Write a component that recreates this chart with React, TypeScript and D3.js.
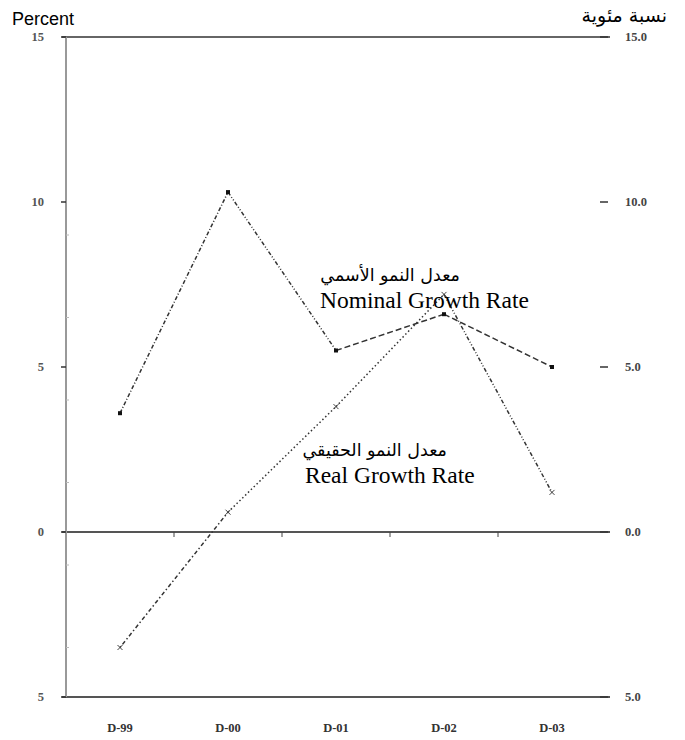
import React from "react";
import * as d3 from "d3";

// chart data
const categories = ["D-99", "D-00", "D-01", "D-02", "D-03"];
const nominalGrowth = [3.6, 10.3, 5.5, 6.6, 5.0];
const realGrowth = [-3.5, 0.6, 3.8, 7.2, 1.2];
const leftTicks = [15, 10, 5, 0, -5];
const leftTickLabels = ["15", "10", "5", "0", "5"];
const rightTickLabels = ["15.0", "10.0", "5.0", "0.0", "5.0"];

// dash pattern for each segment (between consecutive categories)
const nominalDash = ["4,2,1,2", "4,2,1,2,1,2", "6,3", "6,3"];
const realDash = ["1.5,2.5,4,2.5", "1.5,2.5", "1.5,2.5", "4,2,1,2,1,2"];

export default function App() {
  const svgRef = React.useRef<SVGSVGElement>(null);
  const width = 685;
  const height = 740;
  const left = 66, right = 606, top = 37, bottom = 697;

  React.useEffect(() => {
    const svg = d3.select(svgRef.current);
    svg.selectAll("*").remove();

    const x = d3.scaleBand<string>().domain(categories).range([left, right]).padding(0);
    const y = d3.scaleLinear().domain([-5, 15]).range([bottom, top]);
    const cx = (c: string) => (x(c) as number) + x.bandwidth() / 2;

    // frame lines
    svg.append("line").attr("x1", 62).attr("x2", 610).attr("y1", y(15)).attr("y2", y(15))
      .attr("stroke", "#666").attr("stroke-width", 2);
    svg.append("line").attr("x1", 62).attr("x2", 610).attr("y1", y(-5)).attr("y2", y(-5))
      .attr("stroke", "#555").attr("stroke-width", 2);
    svg.append("line").attr("x1", 62).attr("x2", 610).attr("y1", y(0)).attr("y2", y(0))
      .attr("stroke", "#555").attr("stroke-width", 2);
    svg.append("line").attr("x1", left).attr("x2", left).attr("y1", y(15)).attr("y2", y(-5))
      .attr("stroke", "#999").attr("stroke-width", 2);

    // category boundary ticks on the zero line
    categories.slice(1).forEach((c) => {
      svg.append("line").attr("x1", x(c) as number).attr("x2", x(c) as number)
        .attr("y1", y(0)).attr("y2", y(0) + 5).attr("stroke", "#444").attr("stroke-width", 1);
    });

    // left ticks + labels
    leftTicks.forEach((t, i) => {
      svg.append("line").attr("x1", left - 5).attr("x2", left).attr("y1", y(t)).attr("y2", y(t))
        .attr("stroke", "#333").attr("stroke-width", 1.5);
      svg.append("text").attr("x", 44).attr("y", y(t)).attr("dy", "0.35em")
        .attr("text-anchor", "end").attr("font-family", "Liberation Serif, serif")
        .attr("font-weight", "bold").attr("font-size", 12.5).attr("fill", "#555")
        .text(leftTickLabels[i]);
      // right side
      svg.append("line").attr("x1", 600).attr("x2", 608).attr("y1", y(t)).attr("y2", y(t))
        .attr("stroke", "#333").attr("stroke-width", 1.5);
      svg.append("text").attr("x", 625).attr("y", y(t)).attr("dy", "0.35em")
        .attr("font-family", "Liberation Serif, serif")
        .attr("font-weight", "bold").attr("font-size", 12.5).attr("fill", "#444")
        .text(rightTickLabels[i]);
    });
    // faint minor ticks on left axis
    [9, 6.5, 4, 1.5, -1, -3.5].forEach((t) => {
      svg.append("line").attr("x1", left).attr("x2", left + 3).attr("y1", y(t)).attr("y2", y(t))
        .attr("stroke", "#bbb").attr("stroke-width", 1);
    });

    // category labels
    svg.selectAll("text.cat").data(categories).enter().append("text")
      .attr("class", "cat").attr("x", (d) => cx(d)).attr("y", 732)
      .attr("text-anchor", "middle").attr("font-family", "Liberation Serif, serif")
      .attr("font-weight", "bold").attr("font-size", 12.5).attr("fill", "#333")
      .text((d) => d);

    const line = d3.line<[number, number]>().x((d) => d[0]).y((d) => d[1]);
    const drawSeries = (vals: number[], dashes: string[]) => {
      for (let i = 0; i < vals.length - 1; i++) {
        svg.append("path")
          .attr("d", line([[cx(categories[i]), y(vals[i])], [cx(categories[i + 1]), y(vals[i + 1])]]))
          .attr("fill", "none").attr("stroke", "#333").attr("stroke-width", 1.5)
          .attr("stroke-dasharray", dashes[i]);
      }
    };
    drawSeries(nominalGrowth, nominalDash);
    drawSeries(realGrowth, realDash);

    // markers
    svg.selectAll("rect.nom").data(nominalGrowth).enter().append("rect")
      .attr("x", (d, i) => cx(categories[i]) - 2).attr("y", (d) => y(d) - 2)
      .attr("width", 4).attr("height", 4).attr("fill", "#111");
    realGrowth.forEach((v, i) => {
      const px = cx(categories[i]), py = y(v);
      svg.append("path").attr("d", `M${px - 2.5},${py - 2.5}L${px + 2.5},${py + 2.5}M${px - 2.5},${py + 2.5}L${px + 2.5},${py - 2.5}`)
        .attr("stroke", "#444").attr("stroke-width", 1);
    });

    // axis titles
    svg.append("text").attr("x", 12).attr("y", 25).attr("font-family", "Liberation Sans, Arial, sans-serif")
      .attr("font-size", 18).attr("fill", "#000").text("Percent");
    svg.append("text").attr("x", 667).attr("y", 22).attr("text-anchor", "end")
      .attr("font-family", "DejaVu Sans, sans-serif").attr("font-size", 19).attr("fill", "#000")
      .text("نسبة مئوية");

    // annotations
    const serif = "Liberation Serif, Times New Roman, serif";
    svg.append("text").attr("x", 460).attr("y", 281).attr("text-anchor", "end")
      .attr("font-family", "DejaVu Sans, sans-serif").attr("font-size", 17.5)
      .text("معدل النمو الأسمي");
    svg.append("text").attr("x", 320).attr("y", 308).attr("font-family", serif)
      .attr("font-size", 23.5).text("Nominal Growth Rate");
    svg.append("text").attr("x", 447).attr("y", 456).attr("text-anchor", "end")
      .attr("font-family", "DejaVu Sans, sans-serif").attr("font-size", 17.5)
      .text("معدل النمو الحقيقي");
    svg.append("text").attr("x", 305).attr("y", 483).attr("font-family", serif)
      .attr("font-size", 23.5).text("Real Growth Rate");
  }, []);

  return (
    <svg ref={svgRef} width={width} height={height}
      style={{ position: "absolute", left: 0, top: 0, background: "#fff" }} />
  );
}
